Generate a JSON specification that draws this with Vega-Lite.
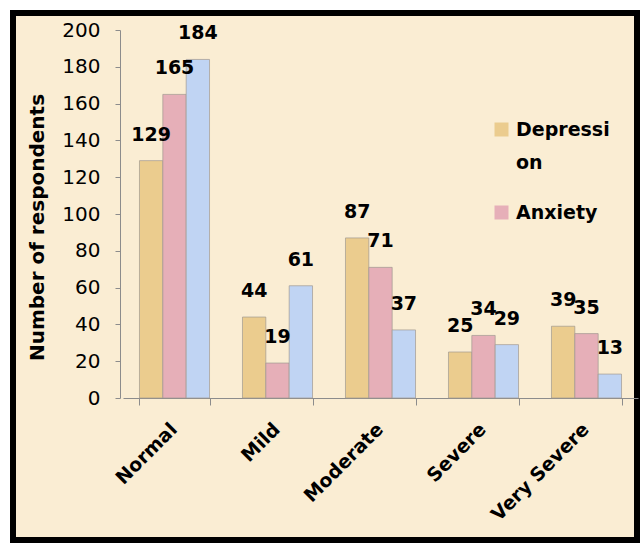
{
  "$schema": "https://vega.github.io/schema/vega-lite/v6.json",
  "width": 624,
  "height": 527,
  "autosize": {"type": "none"},
  "padding": {"left": 13, "top": 13, "right": 4, "bottom": 3},
  "background": "white",
  "view": {"fill": "#faedd3", "stroke": "black", "strokeWidth": 6},
  "config": {"font": "DejaVu Sans", "style": {"guide-label": {"lineHeight": 33}}},
  "data": {
    "values": [
      {"level": "Normal", "series": "Depression", "value": 129},
      {"level": "Normal", "series": "Anxiety", "value": 165},
      {"level": "Normal", "series": "Stress", "value": 184},
      {"level": "Mild", "series": "Depression", "value": 44},
      {"level": "Mild", "series": "Anxiety", "value": 19},
      {"level": "Mild", "series": "Stress", "value": 61},
      {"level": "Moderate", "series": "Depression", "value": 87},
      {"level": "Moderate", "series": "Anxiety", "value": 71},
      {"level": "Moderate", "series": "Stress", "value": 37},
      {"level": "Severe", "series": "Depression", "value": 25},
      {"level": "Severe", "series": "Anxiety", "value": 34},
      {"level": "Severe", "series": "Stress", "value": 29},
      {"level": "Very Severe", "series": "Depression", "value": 39},
      {"level": "Very Severe", "series": "Anxiety", "value": 35},
      {"level": "Very Severe", "series": "Stress", "value": 13}
    ]
  },
  "encoding": {
    "x": {
      "field": "level", "type": "nominal", "sort": null,
      "scale": {"range": [110, 625], "paddingInner": 0.32, "paddingOuter": 0.16},
      "axis": {
        "title": null, "offset": -142, "tickBand": "extent", "tickSize": 7,
        "tickColor": "#8c8c8c", "domainColor": "#8c8c8c",
        "labelAngle": -45, "labelAlign": "right", "labelBaseline": "middle",
        "labelFontWeight": "bold", "labelFontSize": 19, "labelColor": "black",
        "labelPadding": 21, "labelOffset": -1
      }
    },
    "xOffset": {"field": "series", "type": "nominal", "sort": ["Depression", "Anxiety", "Stress"]},
    "y": {
      "field": "value", "type": "quantitative",
      "scale": {"domain": [0, 200], "range": [385, 17]},
      "axis": {
        "title": "Number of respondents", "titleFontWeight": "bold", "titleFontSize": 20,
        "titleColor": "black", "titleX": -77, "titleY": 214, "titleBaseline": "alphabetic",
        "values": [0, 20, 40, 60, 80, 100, 120, 140, 160, 180, 200],
        "labelFontSize": 20, "labelColor": "black", "labelPadding": 15,
        "tickSize": 5, "tickColor": "#8c8c8c", "domainColor": "#8c8c8c",
        "grid": false, "offset": -107
      }
    }
  },
  "layer": [
    {
      "mark": {"type": "bar", "stroke": "#a09a90", "strokeWidth": 0.7},
      "encoding": {
        "color": {
          "field": "series", "type": "nominal",
          "scale": {"domain": ["Depression", "Anxiety", "Stress"], "range": ["#ebcc8e", "#e6afb8", "#c0d4f3"]},
          "legend": {
            "title": null, "orient": "none", "legendX": 479, "legendY": 107, "padding": 0,
            "values": ["Depression", "Anxiety"],
            "symbolType": "square", "symbolSize": 196, "symbolStrokeWidth": 0,
            "labelFontSize": 19, "labelFontWeight": "bold", "labelColor": "black", "labelOffset": 5,
            "labelExpr": "datum.label == 'Depression' ? ['Depressi', 'on'] : datum.label",
            "rowPadding": 30
          }
        }
      }
    },
    {
      "mark": {"type": "text", "dy": -26, "fontWeight": "bold", "fontSize": 19, "baseline": "middle", "color": "black"},
      "encoding": {"text": {"field": "value", "type": "quantitative"}}
    }
  ]
}
